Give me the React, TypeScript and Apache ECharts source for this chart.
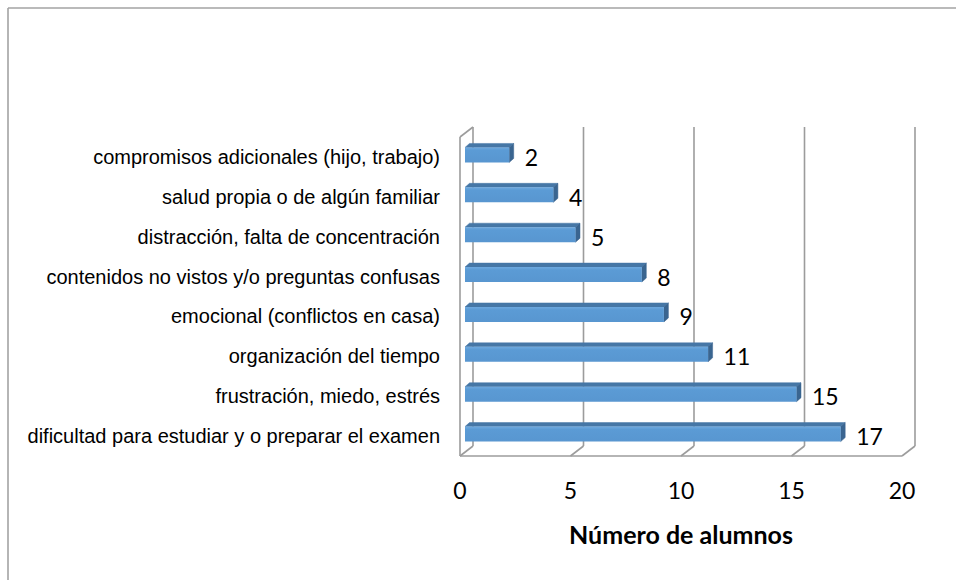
import React, { useEffect, useRef } from "react";
import * as echarts from "echarts";

// Categories listed bottom-to-top (category axis index 0 is at the bottom)
const categories = [
  "dificultad para estudiar y o preparar el examen",
  "frustración, miedo, estrés",
  "organización del tiempo",
  "emocional (conflictos en casa)",
  "contenidos no vistos y/o preguntas confusas",
  "distracción, falta de concentración",
  "salud propia o de algún familiar",
  "compromisos adicionales (hijo, trabajo)",
];
const values = [17, 15, 11, 9, 8, 5, 4, 2];
const xTicks = [0, 5, 10, 15, 20];
const axisTitle = "Número de alumnos";

export default function App() {
  const ref = useRef<HTMLDivElement>(null);
  useEffect(() => {
    if (!ref.current) return;
    const chart = echarts.init(ref.current, null, { renderer: "svg" });
    const DX = 13; // depth of walls
    const DY = -10;
    const wallColor = "#9c9c9c";
    const wallWidth = 1.6;
    const numFont = "Lato, 'Open Sans', sans-serif";

    const option: any = {
      animation: false,
      backgroundColor: "#ffffff",
      grid: { left: 460, right: 54, top: 137, bottom: 124 },
      xAxis: {
        type: "value",
        min: 0,
        max: 20,
        interval: 5,
        axisLine: { show: false },
        axisTick: { show: false },
        splitLine: { show: false },
        axisLabel: {
          fontSize: 23,
          fontFamily: numFont,
          color: "#000",
          margin: 22,
        },
        name: axisTitle,
        nameLocation: "middle",
        nameGap: 65,
        nameTextStyle: {
          fontSize: 25,
          fontWeight: "bold",
          fontFamily: numFont,
          color: "#000",
        },
      },
      yAxis: {
        type: "category",
        data: categories,
        axisLine: { show: false },
        axisTick: { show: false },
        splitLine: { show: false },
        axisLabel: {
          fontSize: 20,
          fontFamily: "'Liberation Sans', Arial, sans-serif",
          color: "#000",
          margin: 20,
          padding: [0, 0, 4, 0],
        },
      },
      graphic: [
        {
          type: "line",
          shape: { x1: 8, y1: 8, x2: 960, y2: 8 },
          style: { stroke: "#a3a3a3", lineWidth: 1.6 },
          silent: true,
        },
        {
          type: "line",
          shape: { x1: 8, y1: 8, x2: 8, y2: 590 },
          style: { stroke: "#a3a3a3", lineWidth: 1.6 },
          silent: true,
        },
      ],
      series: [
        {
          type: "custom",
          name: "walls",
          coordinateSystem: "cartesian2d",
          clip: false,
          silent: true,
          z: 1,
          data: xTicks.map((t) => [t, 0]),
          encode: { x: 0, y: 1 },
          renderItem: (params: any, api: any) => {
            const v = api.value(0);
            const cs = params.coordSys;
            const x = api.coord([v, 0])[0];
            const yB = cs.y + cs.height;
            const yT = cs.y;
            const ls = { stroke: wallColor, lineWidth: wallWidth, fill: "none" };
            const children: any[] = [
              { type: "line", shape: { x1: x + DX, y1: yB + DY, x2: x + DX, y2: yT + DY }, style: ls },
              { type: "line", shape: { x1: x, y1: yB, x2: x + DX, y2: yB + DY }, style: ls },
            ];
            if (v === 0) {
              const xEnd = api.coord([20, 0])[0];
              children.push(
                { type: "line", shape: { x1: x, y1: yB, x2: x, y2: yT }, style: ls },
                { type: "line", shape: { x1: x, y1: yT, x2: x + DX, y2: yT + DY }, style: ls },
                { type: "line", shape: { x1: x, y1: yB, x2: xEnd, y2: yB }, style: ls }
              );
            }
            return { type: "group", children };
          },
        },
        {
          type: "custom",
          name: "Número de alumnos",
          coordinateSystem: "cartesian2d",
          clip: false,
          z: 2,
          data: values.map((v, i) => [v, i]),
          encode: { x: 0, y: 1 },
          renderItem: (params: any, api: any) => {
            const v = api.value(0);
            const idx = api.value(1);
            const p0 = api.coord([0, idx]);
            const p1 = api.coord([v, idx]);
            const ox = 5;
            const oy = -2;
            const h = 15;
            const dx = 4.5;
            const dy = -4;
            const x0 = p0[0] + ox;
            const x1 = p1[0] + ox;
            const yc = p0[1] + oy;
            const yT = yc - h / 2;
            const yB = yc + h / 2;
            return {
              type: "group",
              children: [
                {
                  type: "polygon",
                  shape: { points: [[x0, yT], [x1, yT], [x1 + dx, yT + dy], [x0 + dx, yT + dy]] },
                  style: { fill: "#4677a6", stroke: "#4677a6", lineWidth: 0.5 },
                },
                {
                  type: "polygon",
                  shape: { points: [[x1, yT], [x1 + dx, yT + dy], [x1 + dx, yB + dy], [x1, yB]] },
                  style: { fill: "#3a6590", stroke: "#3a6590", lineWidth: 0.5 },
                },
                {
                  type: "rect",
                  shape: { x: x0, y: yT, width: x1 - x0, height: h },
                  style: {
                    fill: new echarts.graphic.LinearGradient(0, 0, 0, 1, [
                      { offset: 0, color: "#6ea9df" },
                      { offset: 0.2, color: "#5b9bd5" },
                      { offset: 1, color: "#5896d0" },
                    ]),
                  },
                },
                {
                  type: "text",
                  x: x1 + dx + 11,
                  y: yc + 2,
                  style: {
                    text: String(v),
                    fontSize: 23,
                    fontFamily: numFont,
                    fill: "#000",
                    align: "left",
                    verticalAlign: "middle",
                  },
                },
              ],
            };
          },
        },
      ],
    };
    chart.setOption(option);
    return () => chart.dispose();
  }, []);
  return (
    <div
      ref={ref}
      style={{ position: "fixed", left: 0, top: 0, width: 956, height: 580 }}
    />
  );
}
